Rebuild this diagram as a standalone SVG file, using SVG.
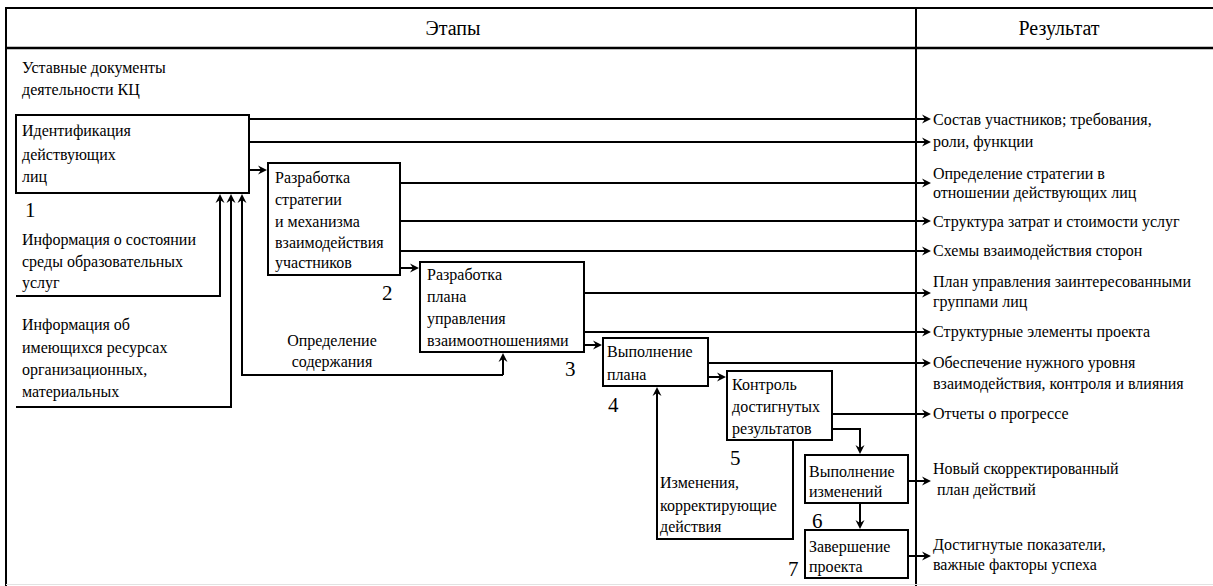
<svg xmlns="http://www.w3.org/2000/svg" width="1213" height="586" viewBox="0 0 1213 586">
<rect width="1213" height="586" fill="#fff"/>
<g id="frame" fill="none" stroke="#000" stroke-width="2">
<line x1="6" y1="8" x2="1213" y2="8"/>
<line x1="6" y1="48" x2="1213" y2="48" stroke-width="2.5"/>
<line x1="6" y1="7" x2="6" y2="586"/>
<line x1="916" y1="7" x2="916" y2="586"/>
<line x1="6" y1="584.5" x2="1213" y2="584.5" stroke="#e2e2e2" stroke-width="1"/>
</g>
<g id="header" fill="#000">
<text x="453" y="35" text-anchor="middle" style="font-family:'Liberation Serif';font-size:20px">Этапы</text>
<text x="1059" y="35" text-anchor="middle" style="font-family:'Liberation Serif';font-size:20px">Результат</text>
</g>
<g id="connectors" fill="none" stroke="#000" stroke-width="2">
<path d="M249,119 H926"/>
<path d="M249,142 H926"/>
<path d="M249,170 H262"/>
<path d="M400,183 H926"/>
<path d="M400,221 H926"/>
<path d="M400,251 H926"/>
<path d="M400,268 H414"/>
<path d="M584,293 H926"/>
<path d="M584,332 H926"/>
<path d="M584,345 H597"/>
<path d="M708,363 H926"/>
<path d="M708,377 H721"/>
<path d="M832,414 H926"/>
<path d="M832,429 H860 V449"/>
<path d="M793,440 V539 H657 V392"/>
<path d="M908,481 H926"/>
<path d="M860,503 V524"/>
<path d="M908,556 H926"/>
<path d="M16,296 H220 V199"/>
<path d="M16,407 H231 V199"/>
<path d="M503,375 V358"/>
<path d="M503,375 H242 V199"/>
</g>
<g id="arrowheads" fill="#000" stroke="none">
<path d="M931,119 l-9,-4.5 l3,4.5 l-3,4.5 z"/>
<path d="M931,142 l-9,-4.5 l3,4.5 l-3,4.5 z"/>
<path d="M931,183 l-9,-4.5 l3,4.5 l-3,4.5 z"/>
<path d="M931,221 l-9,-4.5 l3,4.5 l-3,4.5 z"/>
<path d="M931,251 l-9,-4.5 l3,4.5 l-3,4.5 z"/>
<path d="M931,293 l-9,-4.5 l3,4.5 l-3,4.5 z"/>
<path d="M931,332 l-9,-4.5 l3,4.5 l-3,4.5 z"/>
<path d="M931,363 l-9,-4.5 l3,4.5 l-3,4.5 z"/>
<path d="M931,414 l-9,-4.5 l3,4.5 l-3,4.5 z"/>
<path d="M931,481 l-9,-4.5 l3,4.5 l-3,4.5 z"/>
<path d="M931,556 l-9,-4.5 l3,4.5 l-3,4.5 z"/>
<path d="M267,170 l-9,-4.5 l3,4.5 l-3,4.5 z"/>
<path d="M419,268 l-9,-4.5 l3,4.5 l-3,4.5 z"/>
<path d="M602,345 l-9,-4.5 l3,4.5 l-3,4.5 z"/>
<path d="M726,377 l-9,-4.5 l3,4.5 l-3,4.5 z"/>
<path d="M860,454 l-4.5,-9 l4.5,3 l4.5,-3 z"/>
<path d="M860,529 l-4.5,-9 l4.5,3 l4.5,-3 z"/>
<path d="M657,387 l-4.5,9 l4.5,-3 l4.5,3 z"/>
<path d="M220,194 l-4.5,9 l4.5,-3 l4.5,3 z"/>
<path d="M231,194 l-4.5,9 l4.5,-3 l4.5,3 z"/>
<path d="M242,194 l-4.5,9 l4.5,-3 l4.5,3 z"/>
<path d="M503,353 l-4.5,9 l4.5,-3 l4.5,3 z"/>
</g>
<g id="inputs" fill="#000">
<text x="22" y="73" style="font-family:'Liberation Serif';font-size:16px">Уставные документы</text>
<text x="22" y="95" style="font-family:'Liberation Serif';font-size:16px">деятельности КЦ</text>
<text x="22" y="245" style="font-family:'Liberation Serif';font-size:16px">Информация о состоянии</text>
<text x="22" y="267" style="font-family:'Liberation Serif';font-size:16px">среды образовательных</text>
<text x="22" y="288" style="font-family:'Liberation Serif';font-size:16px">услуг</text>
<text x="22" y="330" style="font-family:'Liberation Serif';font-size:16px">Информация об</text>
<text x="22" y="353" style="font-family:'Liberation Serif';font-size:16px">имеющихся ресурсах</text>
<text x="22" y="375" style="font-family:'Liberation Serif';font-size:16px">организационных,</text>
<text x="22" y="397" style="font-family:'Liberation Serif';font-size:16px">материальных</text>
<text x="332" y="346" text-anchor="middle" style="font-family:'Liberation Serif';font-size:16px">Определение</text>
<text x="332" y="367" text-anchor="middle" style="font-family:'Liberation Serif';font-size:16px">содержания</text>
<text x="660" y="488" style="font-family:'Liberation Serif';font-size:16px">Изменения,</text>
<text x="660" y="511" style="font-family:'Liberation Serif';font-size:16px">корректирующие</text>
<text x="660" y="532" style="font-family:'Liberation Serif';font-size:16px">действия</text>
</g>
<g id="node1">
<rect x="16" y="115" width="233" height="78" fill="#fff" stroke="#000" stroke-width="2"/>
<text x="22" y="136" style="font-family:'Liberation Serif';font-size:16px">Идентификация</text>
<text x="22" y="160" style="font-family:'Liberation Serif';font-size:16px">действующих</text>
<text x="22" y="182" style="font-family:'Liberation Serif';font-size:16px">лиц</text>
<text x="25" y="217" style="font-family:'Liberation Serif';font-size:21px">1</text>
</g>
<g id="node2">
<rect x="268" y="163" width="132" height="112" fill="#fff" stroke="#000" stroke-width="2"/>
<text x="275" y="183" style="font-family:'Liberation Serif';font-size:16px">Разработка</text>
<text x="275" y="205" style="font-family:'Liberation Serif';font-size:16px">стратегии</text>
<text x="275" y="227" style="font-family:'Liberation Serif';font-size:16px">и механизма</text>
<text x="275" y="248" style="font-family:'Liberation Serif';font-size:16px">взаимодействия</text>
<text x="275" y="268" style="font-family:'Liberation Serif';font-size:16px">участников</text>
<text x="382" y="300" style="font-family:'Liberation Serif';font-size:21px">2</text>
</g>
<g id="node3">
<rect x="420" y="262" width="164" height="90" fill="#fff" stroke="#000" stroke-width="2"/>
<text x="427" y="280" style="font-family:'Liberation Serif';font-size:16px">Разработка</text>
<text x="427" y="302" style="font-family:'Liberation Serif';font-size:16px">плана</text>
<text x="427" y="324" style="font-family:'Liberation Serif';font-size:16px">управления</text>
<text x="427" y="346" style="font-family:'Liberation Serif';font-size:16px">взаимоотношениями</text>
<text x="565" y="376" style="font-family:'Liberation Serif';font-size:21px">3</text>
</g>
<g id="node4">
<rect x="603" y="338" width="105" height="48" fill="#fff" stroke="#000" stroke-width="2"/>
<text x="607" y="357" style="font-family:'Liberation Serif';font-size:16px">Выполнение</text>
<text x="607" y="380" style="font-family:'Liberation Serif';font-size:16px">плана</text>
<text x="608" y="412" style="font-family:'Liberation Serif';font-size:21px">4</text>
</g>
<g id="node5">
<rect x="727" y="371" width="105" height="69" fill="#fff" stroke="#000" stroke-width="2"/>
<text x="732" y="390" style="font-family:'Liberation Serif';font-size:16px">Контроль</text>
<text x="732" y="412" style="font-family:'Liberation Serif';font-size:16px">достигнутых</text>
<text x="732" y="434" style="font-family:'Liberation Serif';font-size:16px">результатов</text>
<text x="730" y="465" style="font-family:'Liberation Serif';font-size:21px">5</text>
</g>
<g id="node6">
<rect x="805" y="455" width="103" height="48" fill="#fff" stroke="#000" stroke-width="2"/>
<text x="809" y="477" style="font-family:'Liberation Serif';font-size:16px">Выполнение</text>
<text x="809" y="497" style="font-family:'Liberation Serif';font-size:16px">изменений</text>
<text x="812" y="528" style="font-family:'Liberation Serif';font-size:21px">6</text>
</g>
<g id="node7">
<rect x="805" y="530" width="103" height="48" fill="#fff" stroke="#000" stroke-width="2"/>
<text x="809" y="552" style="font-family:'Liberation Serif';font-size:16px">Завершение</text>
<text x="809" y="572" style="font-family:'Liberation Serif';font-size:16px">проекта</text>
<text x="788" y="576" style="font-family:'Liberation Serif';font-size:21px">7</text>
</g>
<g id="results" fill="#000">
<text x="933" y="125" style="font-family:'Liberation Serif';font-size:16px">Состав участников; требования,</text>
<text x="933" y="147" style="font-family:'Liberation Serif';font-size:16px">роли, функции</text>
<text x="933" y="179" style="font-family:'Liberation Serif';font-size:16px">Определение стратегии в</text>
<text x="933" y="198" style="font-family:'Liberation Serif';font-size:16px">отношении действующих лиц</text>
<text x="933" y="227" style="font-family:'Liberation Serif';font-size:16px">Структура затрат и стоимости услуг</text>
<text x="933" y="256" style="font-family:'Liberation Serif';font-size:16px">Схемы взаимодействия сторон</text>
<text x="933" y="287" style="font-family:'Liberation Serif';font-size:16px">План управления заинтересованными</text>
<text x="933" y="307" style="font-family:'Liberation Serif';font-size:16px">группами лиц</text>
<text x="933" y="337" style="font-family:'Liberation Serif';font-size:16px">Структурные элементы проекта</text>
<text x="933" y="368" style="font-family:'Liberation Serif';font-size:16px">Обеспечение нужного уровня</text>
<text x="933" y="389" style="font-family:'Liberation Serif';font-size:16px">взаимодействия, контроля и влияния</text>
<text x="933" y="419" style="font-family:'Liberation Serif';font-size:16px">Отчеты о прогрессе</text>
<text x="933" y="474" style="font-family:'Liberation Serif';font-size:16px">Новый скорректированный</text>
<text x="937" y="495" style="font-family:'Liberation Serif';font-size:16px">план действий</text>
<text x="933" y="550" style="font-family:'Liberation Serif';font-size:16px">Достигнутые показатели,</text>
<text x="933" y="570" style="font-family:'Liberation Serif';font-size:16px">важные факторы успеха</text>
</g>
</svg>
